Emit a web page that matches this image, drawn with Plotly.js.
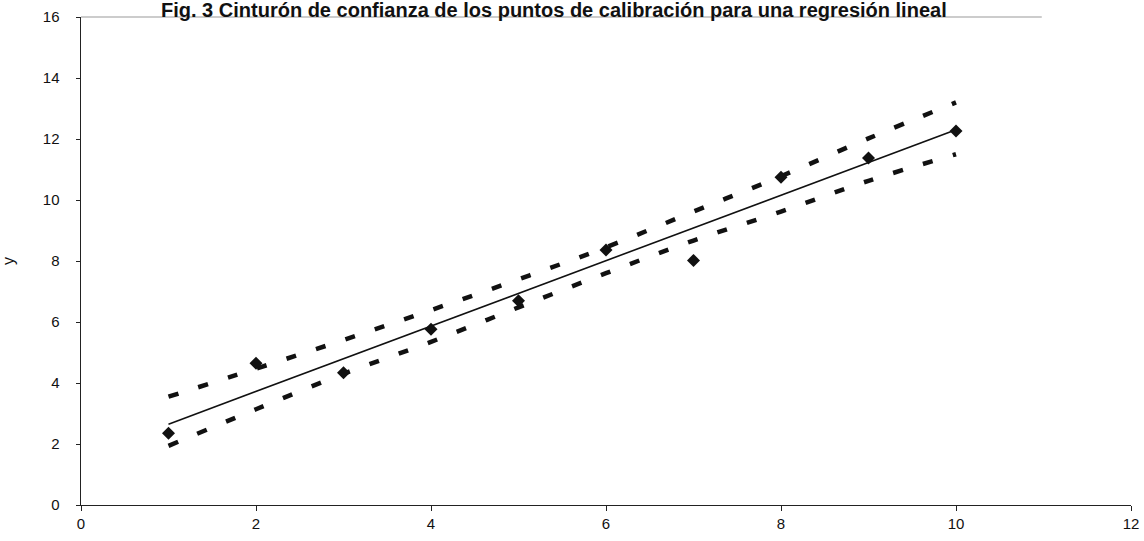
<!DOCTYPE html>
<html>
<head>
<meta charset="utf-8">
<script src="https://cdn.plot.ly/plotly-3.0.1.min.js"></script>
<style>html,body{margin:0;padding:0;background:#fff;}#chart{width:1144px;height:541px;}</style>
</head>
<body>
<div id="chart"></div>
<script>
// Calibration points
const xPoints = [1, 2, 3, 4, 5, 6, 7, 8, 9, 10];
const yPoints = [2.35, 4.65, 4.34, 5.76, 6.7, 8.36, 8.02, 10.75, 11.38, 12.26];
// Regression line (end points)
const lineX = [1, 10];
const lineY = [2.65, 12.3];
// Confidence belt
const bandX = [1, 2, 3, 4, 5, 6, 7, 8, 9, 10];
const upperBand = [3.55, 4.47, 5.41, 6.39, 7.4, 8.45, 9.62, 10.78, 12.02, 13.2];
const lowerBand = [1.94, 3.14, 4.3, 5.35, 6.48, 7.6, 8.67, 9.62, 10.63, 11.5];
// Axis ticks
const xTicks = [0, 2, 4, 6, 8, 10, 12];
const yTicks = [0, 2, 4, 6, 8, 10, 12, 14, 16];

const titleText = "Fig. 3 Cinturón de confianza de los puntos de calibración para una regresión lineal";

const traces = [
  {x: bandX, y: upperBand, mode: 'lines', line: {color: '#111', width: 4.5, dash: '10px,21px', shape: 'spline'}, hoverinfo: 'skip'},
  {x: bandX, y: lowerBand, mode: 'lines', line: {color: '#111', width: 4.5, dash: '10px,21px', shape: 'spline'}, hoverinfo: 'skip'},
  {x: lineX, y: lineY, mode: 'lines', line: {color: '#111', width: 1.6}},
  {x: xPoints, y: yPoints, mode: 'markers', marker: {symbol: 'diamond', size: 10, color: '#111'}}
];

const layout = {
  width: 1144, height: 541,
  paper_bgcolor: '#fff', plot_bgcolor: '#fff',
  showlegend: false,
  margin: {l: 81, r: 13, t: 17, b: 36},
  font: {family: 'Liberation Sans, Arial, sans-serif', color: '#111', size: 15},
  xaxis: {range: [0, 12], tickvals: xTicks, ticktext: xTicks.map(String), showgrid: false, zeroline: false,
          showline: true, linecolor: '#222', linewidth: 1.2, ticks: 'outside', ticklen: 5, tickcolor: '#222',
          tickfont: {size: 15}},
  yaxis: {range: [0, 16], tickvals: yTicks, ticktext: yTicks.map(String), showgrid: false, zeroline: false,
          showline: true, linecolor: '#222', linewidth: 1.5, ticks: 'outside', ticklen: 4, tickcolor: '#222',
          ticklabelstandoff: 13, tickfont: {size: 15},
          title: {text: 'y', standoff: 24, font: {size: 16}}},
  annotations: [
    {text: '<b>' + titleText + '</b>', xref: 'paper', yref: 'paper', x: 0.45, y: 1.0145,
     xanchor: 'center', yanchor: 'middle', showarrow: false,
     font: {family: 'Liberation Sans, Arial, sans-serif', size: 20, color: '#111'}}
  ],
  shapes: [
    {type: 'line', xref: 'paper', yref: 'paper', x0: 0, x1: 0.915, y0: 1, y1: 1, line: {color: '#999', width: 1.2}}
  ]
};

Plotly.newPlot('chart', traces, layout, {staticPlot: true});
</script>
</body>
</html>
